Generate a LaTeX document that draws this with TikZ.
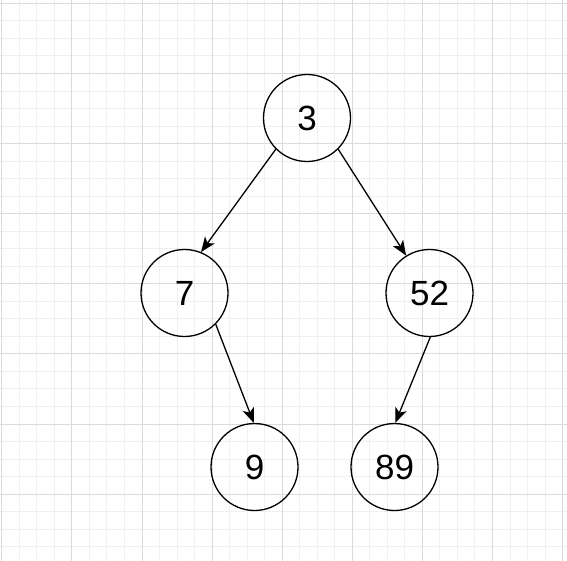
\documentclass[tikz,border=0pt]{standalone}
\usepackage{fontspec}
\setmainfont{Liberation Sans}
\usepackage{tikz}
\usetikzlibrary{arrows.meta,positioning}

\begin{document}
\begin{tikzpicture}[
    x=1pt,y=-1pt,
    node distance=175pt and 122.5pt,
    minorline/.style={draw=black!6,line width=0.8pt},
    majorline/.style={draw=black!14,line width=0.8pt},
    treenode/.style={draw,circle,line width=1.3pt,minimum size=87pt,inner sep=0pt,
        font=\fontsize{35}{40}\selectfont},
    edge/.style={-{Stealth[length=15pt,width=12pt,inset=4pt]},line width=1.3pt}
]
\useasboundingbox (0,0) rectangle (567,561);
\fill[white] (0,0) rectangle (567,561);
% background grid
\foreach \i in {0,...,32} {
    \draw[minorline] ({1.7+17.525*\i},0) -- ++(0,561);
    \draw[minorline] (0,{3.3+17.525*\i}) -- ++(567,0);
}
\foreach \i in {0,...,8} {
    \draw[majorline] ({1.7+70.1*\i},0) -- ++(0,561);
    \draw[majorline] (0,{3.3+70.1*\i}) -- ++(567,0);
}
% tree
\node[treenode] (root) at (307,118) {3};
\node[treenode,on grid,below left=of root] (n7) {7};
\node[treenode,on grid,below right=of root] (n52) {52};
\node[treenode,on grid,below right=174pt and 70pt of n7] (n9) {9};
\node[treenode,on grid,below left=174pt and 35pt of n52] (n89) {89};
\draw[edge] (root.-135) -- (n7.68);
\draw[edge] (root.-45) -- (n52.122);
\draw[edge] (n7.-45) -- (n9.91);
\draw[edge] (n52.-89) -- (n89.89);
\end{tikzpicture}
\end{document}
